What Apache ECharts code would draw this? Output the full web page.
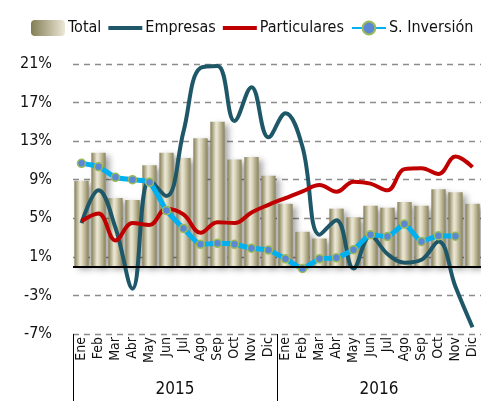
<!DOCTYPE html>
<html>
<head>
<meta charset="utf-8">
<script src="https://cdn.jsdelivr.net/npm/echarts@6/dist/echarts.min.js"></script>
<style>
  html, body { margin: 0; padding: 0; background: #fff; }
  #chart { width: 481px; height: 401px; }
</style>
</head>
<body>
<div id="chart"></div>
<script>
// datos
const months = ["Ene","Feb","Mar","Abr","May","Jun","Jul","Ago","Sep","Oct","Nov","Dic",
                "Ene","Feb","Mar","Abr","May","Jun","Jul","Ago","Sep","Oct","Nov","Dic"];
const years = ["2015", "2016"];
const total = [8.9, 11.8, 7.1, 6.9, 10.5, 11.8, 11.25, 13.3, 15.0, 11.1, 11.35, 9.4,
               6.5, 3.6, 2.9, 6.0, 5.1, 6.3, 6.1, 6.7, 6.3, 8.0, 7.7, 6.5];
const empresas = [4.5, 7.9, 4.0, -2.3, 9.0, 7.3, 14.0, 20.6, 20.8, 15.1, 18.6, 13.4,
                  15.9, 12.4, 3.3, 4.8, -0.2, 3.2, 1.3, 0.4, 0.7, 2.6, -2.1, -6.3];
const particulares = [4.7, 5.5, 2.7, 4.5, 4.3, 6.0, 5.4, 3.5, 4.6, 4.5, 5.6, 6.4,
                      7.1, 7.8, 8.45, 7.75, 8.8, 8.6, 7.9, 10.1, 10.2, 9.6, 11.4, 10.3];
const sInversion = [10.7, 10.35, 9.25, 9.0, 8.75, 5.8, 3.95, 2.3, 2.4, 2.3, 1.9, 1.7,
                    0.8, -0.2, 0.8, 0.9, 1.75, 3.3, 3.1, 4.4, 2.6, 3.2, 3.15, null];

const FONT = "'DejaVu Sans Condensed', 'Liberation Sans Narrow', sans-serif";
const LINE_ICON = "path://M0,0L36,0L36,4L0,4Z";

const chart = echarts.init(document.getElementById("chart"));

// degradado tipo cilindro para las barras
const barGrad = new echarts.graphic.LinearGradient(0, 0, 1, 0, [
  { offset: 0, color: "#837d55" },
  { offset: 0.4, color: "#ece8d6" },
  { offset: 0.55, color: "#dcd7bd" },
  { offset: 1, color: "#88825a" },
]);

chart.setOption({
  animation: false,
  textStyle: { fontFamily: FONT },
  legend: {
    top: 15,
    left: 26,
    right: 0,
    itemGap: 7,
    itemWidth: 34,
    itemHeight: 16,
    textStyle: { fontFamily: FONT, fontSize: 16, color: "#111", padding: [0, 0, 0, -2] },
    data: [
      { name: "Total", itemStyle: { color: new echarts.graphic.LinearGradient(0, 0, 1, 0, [
        { offset: 0, color: "#837d55" }, { offset: 1, color: "#ece8d6" }]) } },
      { name: "Empresas", icon: LINE_ICON },
      { name: "Particulares", icon: LINE_ICON },
      "S. Inversión",
    ],
  },
  grid: { left: 73, right: 0, top: 64, bottom: 67, containLabel: false },
  xAxis: [
    {
      type: "category",
      data: months,
      position: "bottom",
      axisLine: { show: false },
      axisTick: { show: false },
      axisLabel: {
        interval: 0,
        rotate: 90,
        margin: 3,
        fontFamily: FONT,
        fontSize: 14,
        color: "#111",
      },
    },
    {
      type: "category",
      data: years,
      position: "bottom",
      axisLine: { show: false },
      axisTick: { show: true, length: 68, lineStyle: { color: "#000", width: 1 } },
      axisLabel: { margin: 47, fontFamily: FONT, fontSize: 17, color: "#111" },
    },
  ],
  yAxis: {
    type: "value",
    min: -7,
    max: 21,
    interval: 4,
    axisLine: { show: false },
    axisTick: { show: false },
    axisLabel: {
      formatter: "{value}%",
      fontFamily: FONT,
      fontSize: 16,
      color: "#111",
      margin: 21,
    },
    splitLine: { lineStyle: { color: "#8c8c8c", type: [6, 5], width: 1.3 } },
  },
  series: [
    {
      name: "Total",
      type: "bar",
      data: total,
      barWidth: "84%",
      itemStyle: {
        color: barGrad,
        shadowColor: "rgba(0,0,0,0.35)",
        shadowBlur: 6,
        shadowOffsetX: 4,
        shadowOffsetY: 3,
      },
      markLine: {
        silent: true,
        symbol: "none",
        label: { show: false },
        lineStyle: { color: "#000", width: 2, type: "solid" },
        data: [{ yAxis: 0 }],
      },
    },
    {
      name: "Empresas",
      type: "line",
      data: empresas,
      smooth: 0.4,
      symbol: "none",
      lineStyle: { color: "#1e5868", width: 4 },
      itemStyle: { color: "#1e5868" },
    },
    {
      name: "Particulares",
      type: "line",
      data: particulares,
      smooth: 0.4,
      symbol: "none",
      lineStyle: { color: "#c00000", width: 4 },
      itemStyle: { color: "#c00000" },
    },
    {
      name: "S. Inversión",
      type: "line",
      data: sInversion,
      smooth: 0.15,
      symbol: "circle",
      symbolSize: 8,
      lineStyle: { color: "#00b0f0", width: 5 },
      itemStyle: { color: "#5b87d4", borderColor: "#9bbb59", borderWidth: 1.5 },
    },
  ],
});
</script>
</body>
</html>
